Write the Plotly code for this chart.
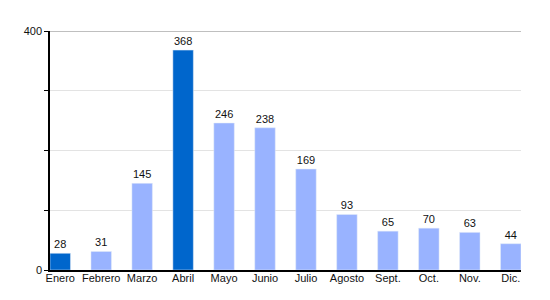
import plotly.graph_objects as go

months = ["Enero", "Febrero", "Marzo", "Abril", "Mayo", "Junio", "Julio",
          "Agosto", "Sept.", "Oct.", "Nov.", "Dic."]
values = [28, 31, 145, 368, 246, 238, 169, 93, 65, 70, 63, 44]
highlight = ["Enero", "Abril"]
y_ticks = [0, 100, 200, 300, 400]
y_ticktext = ["0", "", "", "", "400"]

dark = "#0066CC"
light = "#99B3FF"
colors = [dark if m in highlight else light for m in months]

fig = go.Figure(go.Bar(
    x=months, y=values, marker_color=colors, width=0.5,
    text=[str(v) for v in values], textposition="outside",
    textfont=dict(family="Liberation Sans, Arial, sans-serif", size=11, color="#111"),
    cliponaxis=False,
))

fig.update_layout(
    width=550, height=300,
    margin=dict(l=50, r=29, t=31, b=30),
    plot_bgcolor="white", paper_bgcolor="white",
    font=dict(family="Liberation Sans, Arial, sans-serif", size=11, color="#111"),
    showlegend=False,
    bargap=0.5,
)
fig.update_xaxes(
    type="category", range=[-0.25, 11.25],
    showline=True, linecolor="black", linewidth=1.5,
    ticks="", showgrid=False, tickfont=dict(size=11),
    ticklabelstandoff=-3,
)
fig.update_yaxes(
    range=[0, 400], tickvals=y_ticks, ticktext=y_ticktext,
    showline=True, linecolor="black", linewidth=1.5,
    ticks="outside", ticklen=4, tickcolor="black",
    showgrid=True, gridcolor="#e3e3e3", gridwidth=1,
    zeroline=False, tickfont=dict(size=11),
)
fig.add_shape(type="line", xref="paper", yref="y", x0=0, x1=1, y0=400, y1=400,
              line=dict(color="#aaaaaa", width=1.5))

fig.write_html("out.html")
